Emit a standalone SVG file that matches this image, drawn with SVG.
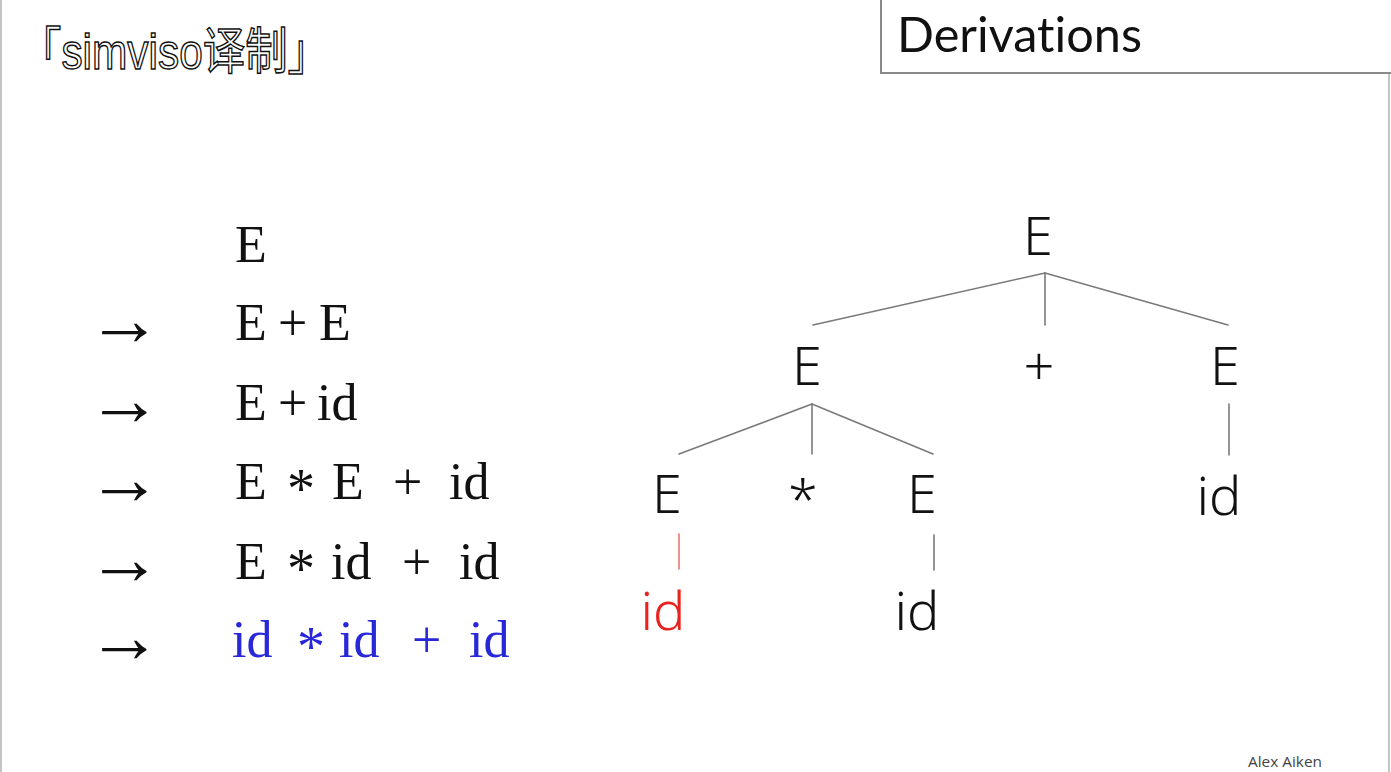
<svg xmlns="http://www.w3.org/2000/svg" width="1391" height="772" viewBox="0 0 1391 772">
<style>
.ser{font-family:"Liberation Serif","DejaVu Serif",serif;font-size:52px;fill:#111}
.blue{fill:#2828d8}
.ast{font-size:56px}
.arr{font-family:"Liberation Serif","DejaVu Serif",serif;font-size:75px;fill:#111}
.tree{font-family:"Noto Sans","Open Sans",sans-serif;font-weight:300;font-size:54px;fill:#111;text-anchor:middle}
.red{fill:#e8221c}
.edge{stroke:#7a7a7a;stroke-width:1.6;fill:none;stroke-linecap:round}
.redge{stroke:#e86060;stroke-width:1.4}
</style>
<rect x="0" y="0" width="1391" height="772" fill="#fff"/>
<line x1="1" y1="0" x2="1" y2="772" stroke="#c4c4c4" stroke-width="2"/>
<line x1="1389" y1="73" x2="1389" y2="772" stroke="#c4c4c4" stroke-width="2"/>
<g id="title">
<rect x="881" y="-3" width="515" height="76" fill="#fff" stroke="#8a8a8a" stroke-width="2"/>
<text x="897" y="52" font-family="Lato,'Open Sans',sans-serif" font-size="48" fill="#111" style="font-variant-ligatures:none" textLength="245" lengthAdjust="spacingAndGlyphs">Derivations</text>
</g>
<g id="watermark">
<text x="19" y="69" font-family="'Liberation Sans','Noto Sans CJK SC',sans-serif" font-size="50" fill="#fff" stroke="#111" stroke-width="1.5" textLength="311" lengthAdjust="spacingAndGlyphs">「simviso译制」</text>
</g>
<g id="derivation">
<text class="ser" x="235" y="262">E</text>
<text class="arr" x="87" y="345">→</text>
<text class="ser" y="340"><tspan x="235">E</tspan><tspan x="278">+</tspan><tspan x="319">E</tspan></text>
<text class="arr" x="87" y="425">→</text>
<text class="ser" y="420"><tspan x="235">E</tspan><tspan x="278">+</tspan><tspan x="317">id</tspan></text>
<text class="arr" x="87" y="504">→</text>
<text class="ser" y="499"><tspan x="235">E</tspan><tspan class="ast" x="287" dy="9">*</tspan><tspan x="332" dy="-9">E</tspan><tspan x="393">+</tspan><tspan x="449">id</tspan></text>
<text class="arr" x="87" y="584">→</text>
<text class="ser" y="579"><tspan x="235">E</tspan><tspan class="ast" x="287" dy="9">*</tspan><tspan x="331" dy="-9">id</tspan><tspan x="402">+</tspan><tspan x="459">id</tspan></text>
<text class="arr blue" x="87" y="662">→</text>
<text class="ser blue" y="657"><tspan x="232">id</tspan><tspan class="ast" x="297" dy="9">*</tspan><tspan x="339" dy="-9">id</tspan><tspan x="412">+</tspan><tspan x="469">id</tspan></text>
</g>
<g id="connectors">
<line class="edge" x1="1045" y1="273" x2="813" y2="325"/>
<line class="edge" x1="1045" y1="273" x2="1045" y2="325"/>
<line class="edge" x1="1045" y1="273" x2="1228" y2="325"/>
<line class="edge" x1="812" y1="404" x2="679" y2="454"/>
<line class="edge" x1="812" y1="404" x2="812" y2="454"/>
<line class="edge" x1="812" y1="404" x2="933" y2="454"/>
<line class="edge" x1="1229" y1="404" x2="1229" y2="455"/>
<line class="edge redge" x1="679" y1="534" x2="679" y2="569"/>
<line class="edge" x1="934" y1="535" x2="934" y2="570"/>
</g>
<g id="n-root"><text class="tree" x="1038" y="255">E</text></g>
<g id="n-E1"><text class="tree" x="807" y="385">E</text></g>
<g id="n-plus"><text class="tree" x="1039" y="385">+</text></g>
<g id="n-E2"><text class="tree" x="1225" y="385">E</text></g>
<g id="n-E3"><text class="tree" x="667" y="513">E</text></g>
<g id="n-star"><text class="tree" x="803" y="519" font-size="36">*</text></g>
<g id="n-E4"><text class="tree" x="922" y="513">E</text></g>
<g id="n-id1"><text class="tree" x="1219" y="515">id</text></g>
<g id="n-id2"><text class="tree red" x="663" y="630">id</text></g>
<g id="n-id3"><text class="tree" x="917" y="630">id</text></g>
<g id="credit">
<text x="1248" y="767" font-family="'Open Sans',sans-serif" font-size="14" fill="#444" textLength="74" lengthAdjust="spacingAndGlyphs">Alex Aiken</text>
</g>
</svg>
